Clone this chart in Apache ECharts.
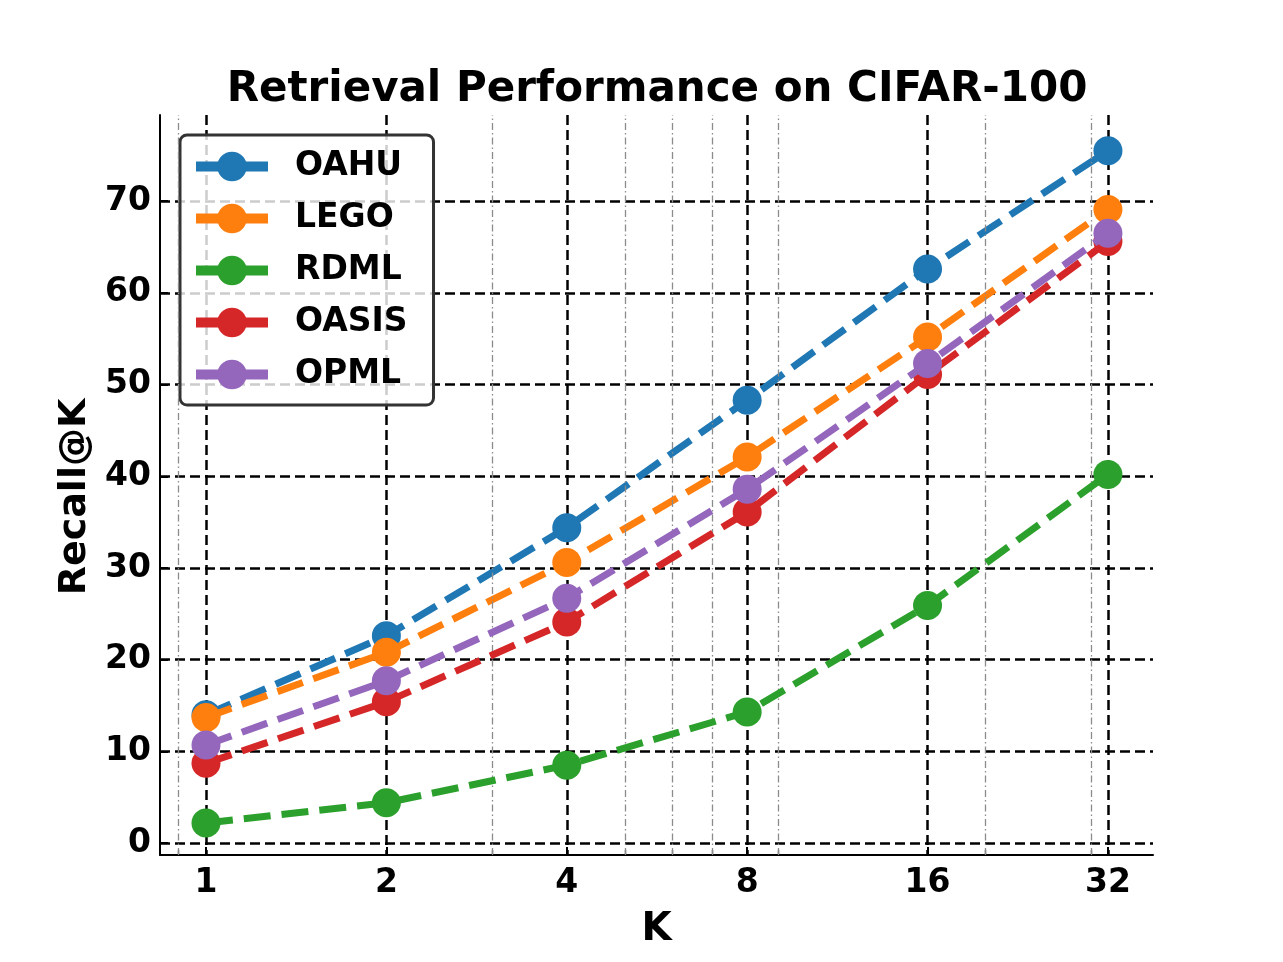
<!DOCTYPE html>
<html>
<head>
<meta charset="utf-8">
<title>Retrieval Performance on CIFAR-100</title>
<script src="https://cdn.jsdelivr.net/npm/echarts@6/dist/echarts.min.js"></script>
<style>
  html, body { margin: 0; padding: 0; background: #fff; }
  #chart { width: 1283px; height: 962px; }
</style>
</head>
<body>
<div id="chart"></div>
<script>
// values
const kValues = [1, 2, 4, 8, 16, 32];
const minorK = [0.9, 3, 5, 6, 7, 9, 20, 30];
const yTicks = [0, 10, 20, 30, 40, 50, 60, 70];

const names = ['OAHU', 'LEGO', 'RDML', 'OASIS', 'OPML'];
const colors = ['#1f77b4', '#ff7f0e', '#2ca02c', '#d62728', '#9467bd'];

const oahu = [14.0, 22.6, 34.4, 48.3, 62.6, 75.5];
const lego = [13.7, 20.8, 30.6, 42.1, 55.2, 69.1];
const rdml = [2.2, 4.4, 8.5, 14.3, 25.9, 40.2];
const oasis = [8.7, 15.4, 24.1, 36.1, 51.1, 65.6];
const opml = [10.7, 17.7, 26.7, 38.6, 52.3, 66.5];
const allSeries = [oahu, lego, rdml, oasis, opml];

const FONT = 'DejaVu Sans';
const xMin = 0.838, xMax = 38.05;

const chart = echarts.init(document.getElementById('chart'));

// 次要网格线 (dash-dot), drawn by a series with no points
const minorSeries = {
  name: 'minor',
  type: 'line',
  data: [],
  z: 1,
  silent: true,
  markLine: {
    silent: true,
    symbol: 'none',
    label: { show: false },
    lineStyle: { color: '#8c8c8c', width: 1.3, type: [7, 3, 1.5, 3] },
    data: minorK.map(k => ({ xAxis: k }))
  }
};

const lineSeries = names.map((n, i) => ({
  name: n,
  type: 'line',
  data: kValues.map((k, j) => [k, allSeries[i][j]]),
  symbol: 'circle',
  symbolSize: 29,
  z: 3 + i,
  itemStyle: { color: colors[i] },
  lineStyle: { color: colors[i], width: 7, type: [27, 11], cap: 'butt' }
}));

const option = {
  animation: false,
  backgroundColor: '#fff',
  title: {
    text: 'Retrieval Performance on CIFAR-100',
    left: 652,
    top: 64,
    textAlign: 'center',
    textStyle: { fontFamily: FONT, fontWeight: 'bold', fontSize: 42, color: '#000' }
  },
  legend: {
    data: names,
    orient: 'vertical',
    left: 180,
    top: 135,
    padding: [15, 26, 14, 11],
    itemGap: 19,
    itemWidth: 72,
    itemHeight: 37,
    backgroundColor: 'rgba(255,255,255,0.8)',
    borderColor: '#333',
    borderWidth: 3,
    borderRadius: 7,
    lineStyle: { type: 'solid', width: 10 },
    textStyle: { fontFamily: FONT, fontWeight: 'bold', fontSize: 33, color: '#000', padding: [0, 0, 0, 22] }
  },
  grid: { left: 160, right: 130, top: 115, bottom: 107, containLabel: false },
  xAxis: [{
    type: 'log',
    logBase: 2,
    min: xMin,
    max: xMax,
    name: 'K',
    nameLocation: 'middle',
    nameGap: 55,
    nameTextStyle: { fontFamily: FONT, fontWeight: 'bold', fontSize: 39, color: '#000' },
    axisLine: { show: true, onZero: false, lineStyle: { color: '#000', width: 2 } },
    axisTick: { show: true, inside: true, length: 8, customValues: kValues, lineStyle: { color: '#000', width: 2 } },
    axisLabel: {
      customValues: kValues,
      margin: 12,
      fontFamily: FONT, fontWeight: 'bold', fontSize: 33, color: '#000',
      formatter: v => String(Math.round(v))
    },
    splitLine: { show: true, lineStyle: { color: '#000', width: 2.5, type: [10, 5] } }
  }, {
    // minor tick marks only
    type: 'log',
    logBase: 2,
    min: xMin,
    max: xMax,
    gridIndex: 0,
    position: 'bottom',
    axisLine: { show: false, onZero: false },
    axisTick: { show: true, inside: true, length: 5, customValues: minorK, lineStyle: { color: '#000', width: 1.3 } },
    axisLabel: { show: false },
    splitLine: { show: false }
  }],
  yAxis: {
    type: 'value',
    min: -1.3,
    max: 79.4,
    minInterval: 10,
    maxInterval: 10,
    name: 'Recall@K',
    nameLocation: 'middle',
    nameRotate: 90,
    nameGap: 66,
    nameTextStyle: { fontFamily: FONT, fontWeight: 'bold', fontSize: 38, color: '#000', padding: [0, 24, 0, 0] },
    axisLine: { show: true, onZero: false, lineStyle: { color: '#000', width: 2 } },
    axisTick: { show: true, inside: true, length: 8, customValues: yTicks, lineStyle: { color: '#000', width: 2 } },
    axisLabel: {
      customValues: yTicks,
      margin: 9,
      fontFamily: FONT, fontWeight: 'bold', fontSize: 33, color: '#000'
    },
    splitLine: { show: true, lineStyle: { color: '#000', width: 2.5, type: [10, 5] } }
  },
  series: [minorSeries].concat(lineSeries)
};

chart.setOption(option);
</script>
</body>
</html>
